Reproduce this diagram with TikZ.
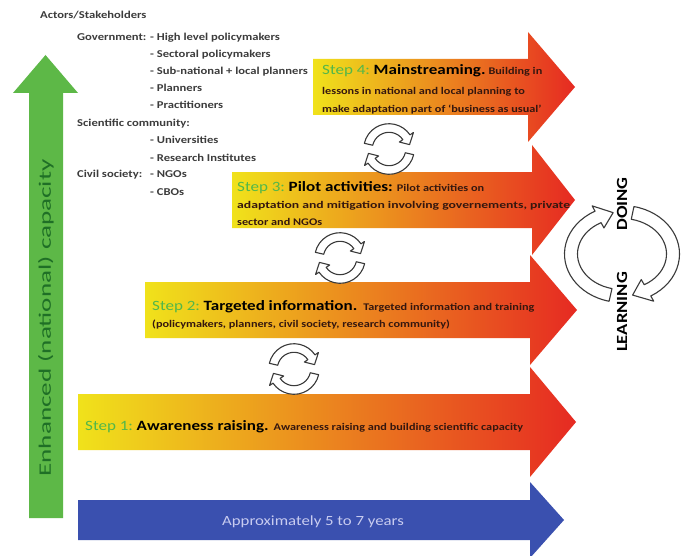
\documentclass[tikz,border=0pt]{standalone}
\usepackage{fontspec}
\setmainfont{Carlito}[FakeStretch=1.2]
\newfontfamily\capfont{Carlito}[FakeStretch=1.55]
\newfontfamily\widefont{Carlito}[FakeStretch=1.34]
\definecolor{capgreen}{HTML}{5DB847}
\definecolor{capgreentext}{HTML}{1F6F26}
\definecolor{stepyellow}{HTML}{F0E21B}
\definecolor{steporange}{HTML}{F6A01C}
\definecolor{stepred}{HTML}{E62A22}
\definecolor{timeblue}{HTML}{3A50AF}
\definecolor{timetext}{HTML}{C8CCF0}
\definecolor{steplabel}{HTML}{52B74A}
\definecolor{bodytext}{HTML}{35170F}
\definecolor{actortext}{HTML}{3C3C3C}
\definecolor{loopline}{HTML}{3A3A3A}

% fonts used in the step arrows
\newcommand\stepno[1]{{\mdseries\fontsize{14.2}{17}\selectfont\color{steplabel}#1}}
\newcommand\steptitle[1]{{\bfseries\fontsize{14.2}{17}\selectfont\color{black}#1}}

% horizontal block arrow: style, left x, centre y, shaft half height, head base x, tip x, head half height
\newcommand\steparrow[7]{%
  \path[#1] (#2,#3-#4) -- (#5,#3-#4) -- (#5,#3-#7) -- (#6,#3) -- (#5,#3+#7)
    -- (#5,#3+#4) -- (#2,#3+#4) -- cycle;}

% hollow curved arrow on an ellipse: centre x, centre y, x radius, y radius,
% start angle, end angle (tip), band half width, head half width, head angle
\newcommand\hollowarc[9]{%
  \begin{scope}[shift={(#1,#2)}]
    \pgfmathsetmacro\hbase{#6-#9}
    \pgfmathsetmacro\rxo{#3+#7}\pgfmathsetmacro\ryo{#4+#7}
    \pgfmathsetmacro\rxi{#3-#7}\pgfmathsetmacro\ryi{#4-#7}
    \pgfmathsetmacro\rxh{#3+#8}\pgfmathsetmacro\ryh{#4+#8}
    \pgfmathsetmacro\rxk{#3-#8}\pgfmathsetmacro\ryk{#4-#8}
    \path[loopstyle] (#5:{\rxo} and {\ryo})
      arc[start angle=#5, end angle=\hbase, x radius=\rxo, y radius=\ryo]
      -- (\hbase:{\rxh} and {\ryh}) -- (#6:{#3} and {#4})
      -- (\hbase:{\rxk} and {\ryk}) -- (\hbase:{\rxi} and {\ryi})
      arc[start angle=\hbase, end angle=#5, x radius=\rxi, y radius=\ryi]
      -- cycle;
  \end{scope}}

\begin{document}
\begin{tikzpicture}[x=1pt,y=-1pt,
  stepfill/.style={left color=stepyellow, middle color=steporange, right color=stepred},
  loopstyle/.style={draw=loopline, fill=white, line width=1.1pt, line join=round},
  actor/.style={anchor=base west, inner sep=0pt, text=actortext,
    font=\bfseries\fontsize{10.5}{12}\selectfont},
  stepline/.style={anchor=base west, inner sep=0pt, text=bodytext,
    font=\bfseries\fontsize{10.2}{12}\selectfont},
  cyclelabel/.style={rotate=90, inner sep=0pt, font=\bfseries\fontsize{15.5}{17}\selectfont}]
\useasboundingbox (0,0) rectangle (687,556);
\fill[white] (0,0) rectangle (687,556);

% vertical capacity arrow
\path[fill=capgreen] (29,518) -- (29,93) -- (13,93) -- (45.5,55) -- (78,93)
  -- (63,93) -- (63,518) -- cycle;
\node[rotate=90, inner sep=0pt, text=capgreentext, font=\capfont\fontsize{17.5}{20}\selectfont]
  (capacity) at (46,318) {Enhanced (national) capacity};

% time arrow
\steparrow{fill=timeblue}{78}{520}{20}{530}{564}{38}
\node[anchor=base, inner sep=0pt, text=timetext, font=\fontsize{14}{16}\selectfont]
  (years) at (313,525) {Approximately 5 to 7 years};

% step arrows
\steparrow{stepfill}{78}{422}{28}{530}{576}{55}
\steparrow{stepfill}{145}{310}{28}{530}{577}{55}
\steparrow{stepfill}{232}{200}{28}{532}{575}{55}
\steparrow{stepfill}{313}{87}{28}{528}{575}{55}

% step texts
\node[stepline] (s1) at (85,430)
  {\stepno{Step 1:} \steptitle{Awareness raising.}\hspace{5pt}Awareness raising and building scientific capacity};
\node[stepline] (s2a) at (152,310)
  {\stepno{Step 2:} \steptitle{Targeted information.}\hspace{6pt}Targeted information and training};
\node[stepline] (s2b) at (152,327) {(policymakers, planners, civil society, research community)};
\node[stepline] (s3a) at (237,191)
  {\stepno{Step 3:} \steptitle{Pilot activities:}\hspace{4pt}Pilot activities on};
\node[stepline, font=\widefont\bfseries\fontsize{10.2}{12}\selectfont] (s3b) at (237,208)
  {adaptation and mitigation involving governements, private};
\node[stepline] (s3c) at (237,225) {sector and NGOs};
\node[stepline] (s4a) at (322,75)
  {\stepno{Step 4:} \steptitle{Mainstreaming.}\hspace{3pt}Building in};
\node[stepline] (s4b) at (322,95) {lessons in national and local planning to};
\node[stepline] (s4c) at (322,113) {make adaptation part of `business as usual'};

% small learning loops between steps
\foreach \cx/\cy in {389/149, 340/258, 294/369}{
  \hollowarc{\cx}{\cy}{21}{21}{193}{348}{4.3}{8.5}{22}
  \hollowarc{\cx}{\cy}{21}{21}{13}{168}{4.3}{8.5}{22}
}

% learning / doing cycle
\hollowarc{622}{254}{51}{42}{103}{260}{6.5}{12.5}{18}
\hollowarc{622}{254}{51}{42}{282}{438}{6.5}{12.5}{18}
\node[cyclelabel] (doing) at (622,204) {DOING};
\node[cyclelabel] (learning) at (622,312) {LEARNING};

% actors and stakeholders
\node[actor] (actors) at (40,19) {Actors/Stakeholders};
\node[actor] (gov) at (77,41) {Government:};
\node[actor] (gov1) at (150,41) {- High level policymakers};
\node[actor] (gov2) at (150,58) {- Sectoral policymakers};
\node[actor] (gov3) at (150,75) {- Sub-national + local planners};
\node[actor] (gov4) at (150,92) {- Planners};
\node[actor] (gov5) at (150,109) {- Practitioners};
\node[actor] (sci) at (77,127) {Scientific community:};
\node[actor] (sci1) at (150,144) {- Universities};
\node[actor] (sci2) at (150,161) {- Research Institutes};
\node[actor] (civ) at (77,178) {Civil society:};
\node[actor] (civ1) at (150,178) {- NGOs};
\node[actor] (civ2) at (150,195) {- CBOs};
\end{tikzpicture}
\end{document}
